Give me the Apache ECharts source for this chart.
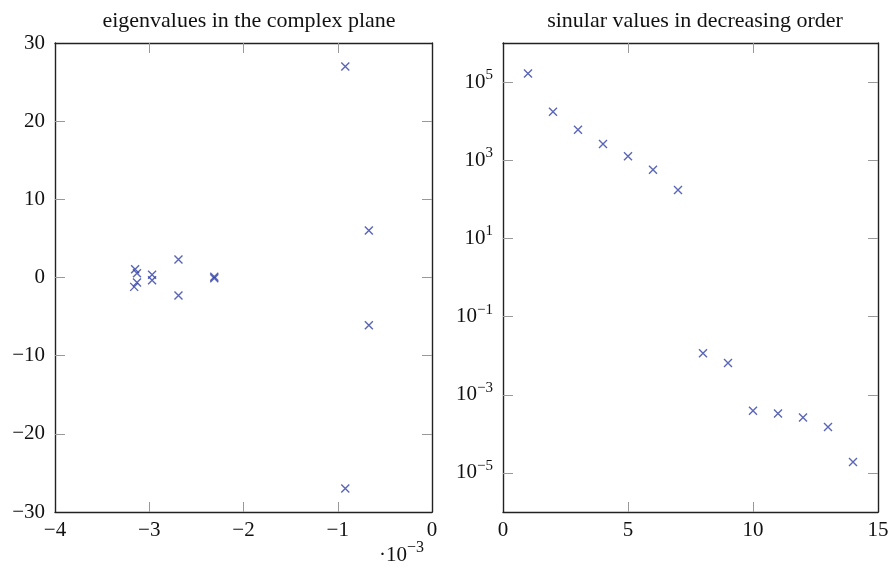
<!DOCTYPE html>
<html>
<head>
<meta charset="utf-8">
<script src="https://cdn.jsdelivr.net/npm/echarts@6/dist/echarts.min.js"></script>
<style>
  html, body { margin: 0; padding: 0; background: #fff; }
  #main { width: 894px; height: 576px; }
</style>
</head>
<body>
<div id="main"></div>
<script>
// eigenvalues: real part in units of 1e-3, imaginary part
var eigReal = [-0.92, -0.92, -0.67, -0.67, -3.15, -3.13, -3.13, -3.16, -2.97, -2.97, -2.69, -2.69, -2.31, -2.31];
var eigImag = [27.0, -27.0, 6.0, -6.1, 1.05, 0.55, -0.65, -1.2, 0.35, -0.35, 2.3, -2.3, 0.1, -0.1];

// singular values, index 1..14
var svIndex = [1, 2, 3, 4, 5, 6, 7, 8, 9, 10, 11, 12, 13, 14];
var svValue = [1.66e5, 1.74e4, 6.0e3, 2.6e3, 1.26e3, 5.7e2, 1.74e2, 1.15e-2, 6.5e-3, 3.9e-4, 3.3e-4, 2.6e-4, 1.5e-4, 1.9e-5];

// log decades labelled on the right plot
var logTicks = [-5, -3, -1, 1, 3, 5];
// inner tick positions (end ticks would sit on the frame)
var eigXTicks = [-3, -2, -1];
var eigYTicks = [-20, -10, 0, 10, 20];
var svXTicks = [5, 10];

var font = 'Liberation Serif';
var lineColor = '#222';
var tickColor = '#999';
var markColor = '#2f3fa6';
var cross = 'path://M0,0L10,10M10,0L0,10';

function minus(v) {
    return String(v).replace('-', '\u2212');
}

function ticks(values) {
    return { show: true, inside: true, length: 10, customValues: values, lineStyle: { color: tickColor, width: 1 } };
}

function boxAxis(base) {
    return Object.assign({
        axisLine: { show: true, onZero: false, lineStyle: { color: lineColor, width: 1.4 } },
        splitLine: { show: false },
        axisLabel: { show: false }
    }, base);
}

var labelStyle = { fontFamily: font, fontSize: 21, color: '#111' };

var myChart = echarts.init(document.getElementById('main'));

option = {
    backgroundColor: '#fff',
    animation: false,
    title: [
        { text: 'eigenvalues in the complex plane', left: 244, top: 5, textAlign: 'center',
          textStyle: { fontFamily: font, fontSize: 22, fontWeight: 'normal', color: '#111' } },
        { text: 'sinular values in decreasing order', left: 690, top: 5, textAlign: 'center',
          textStyle: { fontFamily: font, fontSize: 22, fontWeight: 'normal', color: '#111' } }
    ],
    grid: [
        { left: 55, right: 462, top: 43, bottom: 64 },
        { left: 503, right: 16, top: 43, bottom: 64 }
    ],
    xAxis: [
        boxAxis({ gridIndex: 0, type: 'value', min: -4, max: 0, interval: 1, position: 'bottom',
            axisTick: ticks(eigXTicks),
            axisLabel: Object.assign({ show: true, margin: 8, formatter: minus }, labelStyle) }),
        boxAxis({ gridIndex: 0, type: 'value', min: -4, max: 0, interval: 1, position: 'top',
            axisTick: ticks(eigXTicks) }),
        boxAxis({ gridIndex: 1, type: 'value', min: 0, max: 15, interval: 5, position: 'bottom',
            axisTick: ticks(svXTicks),
            axisLabel: Object.assign({ show: true, margin: 8 }, labelStyle) }),
        boxAxis({ gridIndex: 1, type: 'value', min: 0, max: 15, interval: 5, position: 'top',
            axisTick: ticks(svXTicks) })
    ],
    yAxis: [
        boxAxis({ gridIndex: 0, type: 'value', min: -30, max: 30, interval: 10, position: 'left',
            axisTick: ticks(eigYTicks),
            axisLabel: Object.assign({ show: true, margin: 10, formatter: minus }, labelStyle) }),
        boxAxis({ gridIndex: 0, type: 'value', min: -30, max: 30, interval: 10, position: 'right',
            axisTick: ticks(eigYTicks) }),
        boxAxis({ gridIndex: 1, type: 'value', min: -6, max: 6, position: 'left',
            axisTick: ticks(logTicks),
            axisLabel: Object.assign({
                show: true, margin: 10, customValues: logTicks,
                formatter: function (v) { return '10{sup|' + minus(v) + '}'; },
                rich: { sup: { fontFamily: font, fontSize: 15, verticalAlign: 'top', padding: [0, 0, 14, 0], color: '#111' } }
            }, labelStyle) }),
        boxAxis({ gridIndex: 1, type: 'value', min: -6, max: 6, position: 'right',
            axisTick: ticks(logTicks) })
    ],
    graphic: [
        { type: 'text', left: 379, top: 540,
          style: { text: '\u00b710{s|\u22123}', fontFamily: font, fontSize: 21, fill: '#111',
                   rich: { s: { fontFamily: font, fontSize: 16, padding: [0, 0, 14, 0] } } } }
    ],
    series: [
        {
            type: 'scatter', xAxisIndex: 0, yAxisIndex: 0,
            symbol: cross, symbolSize: 8,
            itemStyle: { color: 'transparent', borderColor: markColor, borderWidth: 1.4 },
            data: eigReal.map(function (x, i) { return [x, eigImag[i]]; })
        },
        {
            type: 'scatter', xAxisIndex: 2, yAxisIndex: 2,
            symbol: cross, symbolSize: 8,
            itemStyle: { color: 'transparent', borderColor: markColor, borderWidth: 1.4 },
            data: svIndex.map(function (k, i) { return [k, Math.log10(svValue[i])]; })
        }
    ]
};
myChart.setOption(option);
</script>
</body>
</html>
